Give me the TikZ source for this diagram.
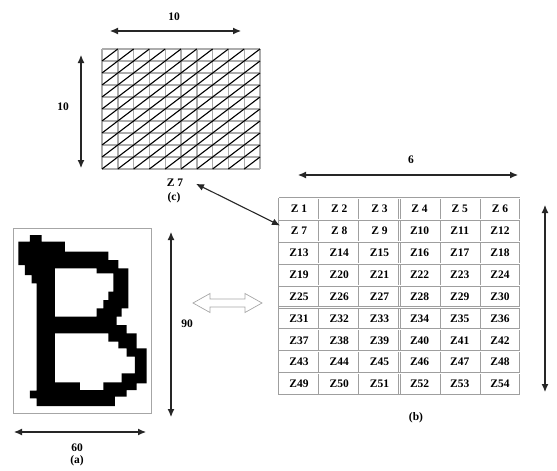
\documentclass[tikz,border=0pt]{standalone}
\usepackage{fontspec}
\setmainfont{Liberation Serif}
\usetikzlibrary{arrows.meta}
\begin{document}
\begin{tikzpicture}[x=1pt,y=-1pt,
  lbl/.style={font=\bfseries\fontsize{11.5}{13}\selectfont, inner sep=1pt},
  dim/.style={{Latex[length=8pt,width=7pt]}-{Latex[length=8pt,width=7pt]}, line width=1.1pt, draw=black!85},
  gridline/.style={draw=gray!65, line width=1.4pt},
  tabline/.style={draw=gray!75, line width=0.6pt, double=white, double distance=0.9pt},
  cell/.style={font=\bfseries\fontsize{11.5}{13}\selectfont, inner sep=0pt}]
\useasboundingbox (0,0) rectangle (557,471);
\foreach \i in {0,...,10} \draw[gridline] ({102+\i*15.8},49) -- ({102+\i*15.8},169);
\foreach \j in {0,...,10} \draw[gridline] (102,{49+\j*12}) -- (260,{49+\j*12});
\foreach \i in {0,...,9} \foreach \j in {0,...,9}
  \draw[line width=1.1pt] ({102+\i*15.8},{61+\j*12}) -- ({117.8+\i*15.8},{49+\j*12});
\draw[dim] (110,31) -- (241,31);
\node[lbl] (top10) at (174,17) {10};
\draw[dim] (81,55) -- (81,168);
\node[lbl] (left10) at (63,107) {10};
\node[lbl] (c7) at (175,183) {Z 7};
\node[lbl] (clbl) at (174,198) {(c)};
\foreach \r in {0,...,8} \foreach \c in {0,...,5} {
  \pgfmathtruncatemacro{\n}{\r*6+\c+1}
  \node[cell] (z\n) at ({299.08+\c*40.17},{208.95+\r*21.89}) {\ifnum\n<10 Z \n\else Z\n\fi};
}
\foreach \c in {0,...,6} \draw[tabline] ({279+\c*40.17},198) -- ({279+\c*40.17},395);
\foreach \r in {0,...,9} \draw[tabline] (279,{198+\r*21.89}) -- (520,{198+\r*21.89});
\draw[dim, shorten <=13pt, shorten >=12pt] (c7.north east) -- (z7.west);
\draw[dim] (298,175) -- (518,175);
\node[lbl] (six) at (411,160) {6};
\draw[dim] (545,205) -- (545,392);
\node[lbl] (blbl) at (416,418) {(b)};
\draw[draw=gray!70, line width=0.6pt] (13,228) rectangle (151,413);
\begin{scope}[shift={(0,220)}, scale=1/3]
\fill[even odd rule] (90,45) -- (125,45) -- (125,65) -- (195,65) -- (195,95) -- (325,95) -- (325,120)
  -- (355,120) -- (355,145) -- (385,145) -- (385,265) -- (365,265) -- (365,290) -- (350,290) -- (350,315)
  -- (380,315) -- (380,340) -- (410,340) -- (410,385) -- (440,385) -- (440,490) -- (410,490) -- (410,510)
  -- (380,510) -- (380,530) -- (345,530) -- (345,558) -- (110,558) -- (110,535) -- (90,535) -- (90,512)
  -- (110,512) -- (110,190) -- (95,190) -- (95,165) -- (75,165) -- (75,135) -- (55,135) -- (55,65)
  -- (90,65) -- cycle
  (165,145) -- (290,145) -- (290,160) -- (340,160) -- (340,215) -- (325,215) -- (325,240) -- (310,240)
  -- (310,265) -- (290,265) -- (290,290) -- (165,290) -- cycle
  (165,340) -- (325,340) -- (325,365) -- (355,365) -- (355,385) -- (380,385) -- (380,410) -- (405,410)
  -- (405,460) -- (365,460) -- (365,487) -- (310,487) -- (310,510) -- (240,510) -- (240,487)
  -- (165,487) -- cycle;
\end{scope}
\draw[dim] (171,232) -- (171,417);
\node[lbl] (ninety) at (187,324) {90};
\draw[dim] (14,432) -- (146,432);
\node[lbl] (sixty) at (77,448) {60};
\node[lbl] (albl) at (77,461) {(a)};
\draw[draw=gray!70, line width=0.7pt] (193,303) -- (210,293.5) -- (210,299) -- (245,299) -- (245,293.5)
  -- (262,303) -- (245,312.5) -- (245,307) -- (210,307) -- (210,312.5) -- cycle;
\end{tikzpicture}
\end{document}
